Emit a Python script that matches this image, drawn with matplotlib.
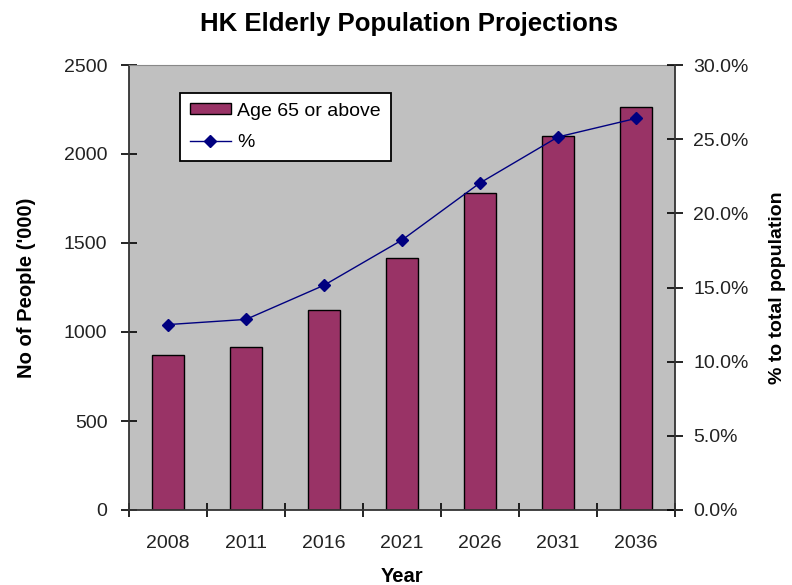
import numpy as np
import matplotlib.pyplot as plt
from matplotlib.ticker import FuncFormatter

years = ['2008', '2011', '2016', '2021', '2026', '2031', '2036']
elderly = [872, 917, 1125, 1415, 1783, 2102, 2262]
pct = [12.5, 12.85, 15.15, 18.2, 22.05, 25.15, 26.4]

plt.rcParams['font.family'] = ['Liberation Sans', 'DejaVu Sans']

fig = plt.figure(figsize=(7.92, 5.85), dpi=100)
ax = fig.add_axes([129 / 792, 1 - 510 / 585, 546 / 792, 445 / 585])
ax.set_facecolor('#C0C0C0')

x = np.arange(len(years))
bars = ax.bar(x, elderly, width=0.4, color='#993366', edgecolor='black', linewidth=1, zorder=2)
ax.set_xlim(-0.5, len(years) - 0.5)
ax.set_ylim(0, 2500)
ax.set_yticks(range(0, 2501, 500))
ax.set_xticks(x)
ax.set_xticklabels(years)
ax.set_xticks(np.arange(-0.5, len(years), 1), minor=True)
ax.tick_params(axis='x', which='major', length=0, pad=18, labelsize=14, labelcolor='#222222')
ax.tick_params(axis='x', which='minor', length=10, direction='inout', width=1.2)
ax.tick_params(axis='y', length=11, direction='inout', width=1.2, labelsize=14, pad=10, labelcolor='#222222')

for s in ['left', 'bottom']:
    ax.spines[s].set_color('#333333')
    ax.spines[s].set_linewidth(1.3)
ax.spines['top'].set_color('#888888')
ax.spines['right'].set_visible(False)

ax2 = ax.twinx()
line, = ax2.plot(x, pct, color='#000080', marker='D', markersize=6.5, linewidth=1, zorder=3)
ax2.set_ylim(0, 30)
ax2.set_yticks(range(0, 31, 5))
ax2.yaxis.set_major_formatter(FuncFormatter(lambda v, p: '%.1f%%' % v))
ax2.tick_params(axis='y', length=11, direction='inout', width=1.2, labelsize=14, pad=7.5, labelcolor='#222222')
ax2.spines['right'].set_color('#333333')
ax2.spines['right'].set_linewidth(1.3)
for s in ['left', 'top', 'bottom']:
    ax2.spines[s].set_visible(False)

fig.text(409 / 792, 1 - 31 / 585, 'HK Elderly Population Projections', fontsize=18.5,
         fontweight='bold', ha='center', va='baseline')
ax.set_xlabel('Year', fontsize=14.5, fontweight='bold', labelpad=11)
ax.set_ylabel("No of People ('000)", fontsize=14.5, fontweight='bold', labelpad=20)
ax2.set_ylabel('% to total population', fontsize=14, fontweight='bold', labelpad=15)

leg = ax2.legend([bars, line], ['Age 65 or above', '%'], loc='upper left',
                 bbox_to_anchor=(51 / 546, 417 / 445), borderaxespad=0, fancybox=False,
                 framealpha=1, edgecolor='black', fontsize=14, handlelength=2.1,
                 handleheight=0.5, handletextpad=0.35, borderpad=0.5, labelspacing=0.75)
leg.get_frame().set_linewidth(1.3)

fig.savefig('out.png', dpi=100)
